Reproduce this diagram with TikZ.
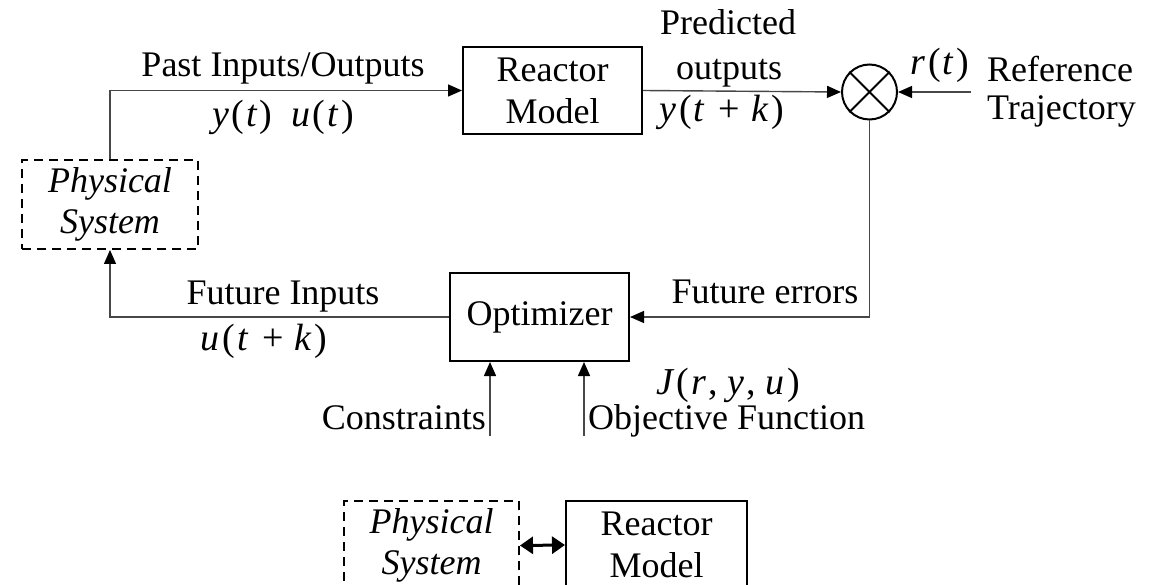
\documentclass[tikz,border=0pt]{standalone}
\usepackage{fontspec}
\setmainfont{Liberation Serif}
\usetikzlibrary{arrows.meta}
\newcommand{\mv}[1]{\textit{#1}\kern0.06em}
\newcommand{\lp}{(\kern0.06em}
\newcommand{\pl}{\hspace{0.3em}+\hspace{0.3em}}
\begin{document}
\begin{tikzpicture}[x=1pt,y=-1pt,
  every node/.style={font=\fontsize{36}{42}\selectfont},
  box/.style={draw, line width=2pt, inner sep=0pt, align=center},
  dbox/.style={box, dash pattern=on 9pt off 6pt, font=\fontsize{36}{41}\selectfont\itshape},
  conn/.style={line width=1.4pt, draw=black!72, -{Triangle[length=14pt,width=12pt,fill=black,color=black]}},
  lbl/.style={inner sep=0pt, anchor=base},
  mth/.style={lbl, font=\fontsize{38}{41}\selectfont},
]
\useasboundingbox (0,0) rectangle (1156,585);

% boxes
\node[dbox, minimum width=176pt, minimum height=89pt] (ps) at (110,204.5) {Physical\\System};
\node[box, minimum width=179pt, minimum height=87pt] (rm) at (552.5,90.5) {Reactor\\Model};
\node[circle, draw, line width=2pt, minimum size=55pt, inner sep=0pt] (sum) at (869.5,92) {};
\draw[line width=2pt] (sum.north east) -- (sum.south west) (sum.north west) -- (sum.south east);
\node[box, minimum width=179pt, minimum height=88pt] (opt) at (539.5,317) {Optimizer};

% bottom
\node[dbox, minimum width=175pt, minimum height=89pt] (ps2) at (431.5,545.5) {Physical\\System};
\node[box, minimum width=181pt, minimum height=88pt] (rm2) at (656.5,545) {Reactor\\Model};

% connectors
\draw[conn] (ps.north) |- (rm.west);
\draw[conn] (rm.east) -- (sum.west);
\coordinate (rin) at (971,92);
\draw[conn] (rin) -- (sum.east);
\draw[conn] (sum.south) |- (opt.east);
\draw[conn] (opt.west) -| (ps.south);
\coordinate (cin) at (490,436);
\draw[conn] (cin) -- (cin |- opt.south);
\coordinate (oin) at (584,436);
\draw[conn] (oin) -- (oin |- opt.south);
\draw[line width=3pt, {Triangle[length=13pt,width=17pt]}-{Triangle[length=13pt,width=17pt]}] (ps2.east) -- (rm2.west);

% labels
\node[lbl] (past) at (283,77) {Past Inputs/Outputs};
\node[mth] (yu) at (283,127) {\mv{y}\lp\mv{t})\hspace{0.5em}\mv{u}\lp\mv{t})};
\node[lbl] (pred) at (728,35) {Predicted};
\node[lbl] (outs) at (729,80) {outputs};
\node[mth] (ytk) at (722,122) {\mv{y}\lp\mv{t}\pl\mv{k})};
\node[mth] (rt) at (940,75) {\mv{r}\lp\mv{t})};
\node[lbl, anchor=base west] (ref) at (987,82) {Reference};
\node[lbl, anchor=base west] (traj) at (987,120) {Trajectory};
\node[lbl] (fi) at (283,304) {Future Inputs};
\node[mth] (utk) at (264,350) {\mv{u}\lp\mv{t}\pl\mv{k})};
\node[lbl] (fe) at (765,303) {Future errors};
\node[mth] (J) at (728,394) {\mv{J}\lp\mv{r}, \mv{y}, \mv{u})};
\node[lbl, anchor=base west] (obj) at (588,429) {Objective Function};
\node[lbl, anchor=base east] (cons) at (486,429) {Constraints};
\end{tikzpicture}
\end{document}
